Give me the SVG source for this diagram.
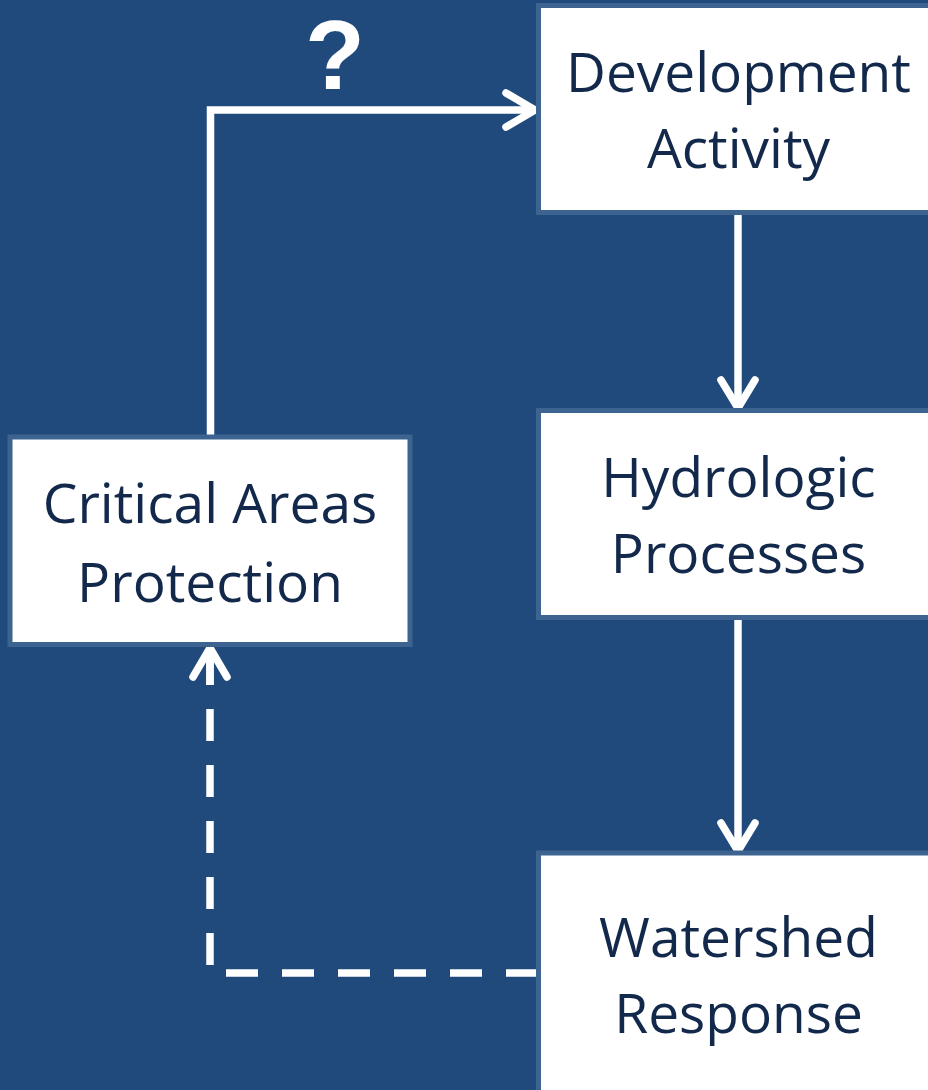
<svg xmlns="http://www.w3.org/2000/svg" width="928" height="1090" viewBox="0 0 928 1090">
  <style>
    .box { fill: #ffffff; stroke: #3d6491; stroke-width: 5; }
    .label { font-family: "Open Sans", "Liberation Sans", sans-serif; font-size: 55px; fill: #13294b; text-anchor: middle; }
    .wire { fill: none; stroke: #ffffff; stroke-width: 7.5; }
    .head { fill: none; stroke: #ffffff; stroke-width: 7.5; stroke-linecap: round; stroke-linejoin: round; }
    .mark { font-family: "Liberation Sans", Arial, sans-serif; font-weight: bold; font-size: 98px; fill: #ffffff; text-anchor: middle; }
  </style>
  <rect width="928" height="1090" fill="#214a7c"/>

  <g id="connectors">
    <!-- protection -> development (questioned) -->
    <path class="wire" d="M210.5 437 V110 H533"/>
    <path class="head" d="M506 93 L535 110 L506 127"/>
    <text class="mark" x="335" y="89">?</text>
    <!-- development -> hydrologic -->
    <path class="wire" d="M738 213 V405"/>
    <path class="head" d="M721 380 L738 408 L755 380"/>
    <!-- hydrologic -> watershed -->
    <path class="wire" d="M738 620 V848"/>
    <path class="head" d="M721 823 L738 851 L755 823"/>
    <!-- watershed -> protection (feedback) -->
    <path class="wire" d="M538 973 H210 V652" stroke-dasharray="32 24"/>
    <path class="head" d="M193 677 L210 648 L227 677"/>
    <path class="wire" d="M210 685 V655"/>
  </g>

  <g id="development">
    <rect class="box" x="538.5" y="5.5" width="400" height="207"/>
    <text class="label" x="738.5" y="92">Development</text>
    <text class="label" x="738.5" y="168">Activity</text>
  </g>

  <g id="hydrologic">
    <rect class="box" x="538.5" y="410.5" width="400" height="207"/>
    <text class="label" x="738.5" y="497">Hydrologic</text>
    <text class="label" x="738.5" y="573">Processes</text>
  </g>

  <g id="watershed">
    <rect class="box" x="538.5" y="853" width="400" height="260"/>
    <text class="label" x="738.5" y="957">Watershed</text>
    <text class="label" x="738.5" y="1033">Response</text>
  </g>

  <g id="protection">
    <rect class="box" x="10" y="437" width="400" height="207.5"/>
    <text class="label" x="210" y="523">Critical Areas</text>
    <text class="label" x="210" y="602">Protection</text>
  </g>
</svg>
